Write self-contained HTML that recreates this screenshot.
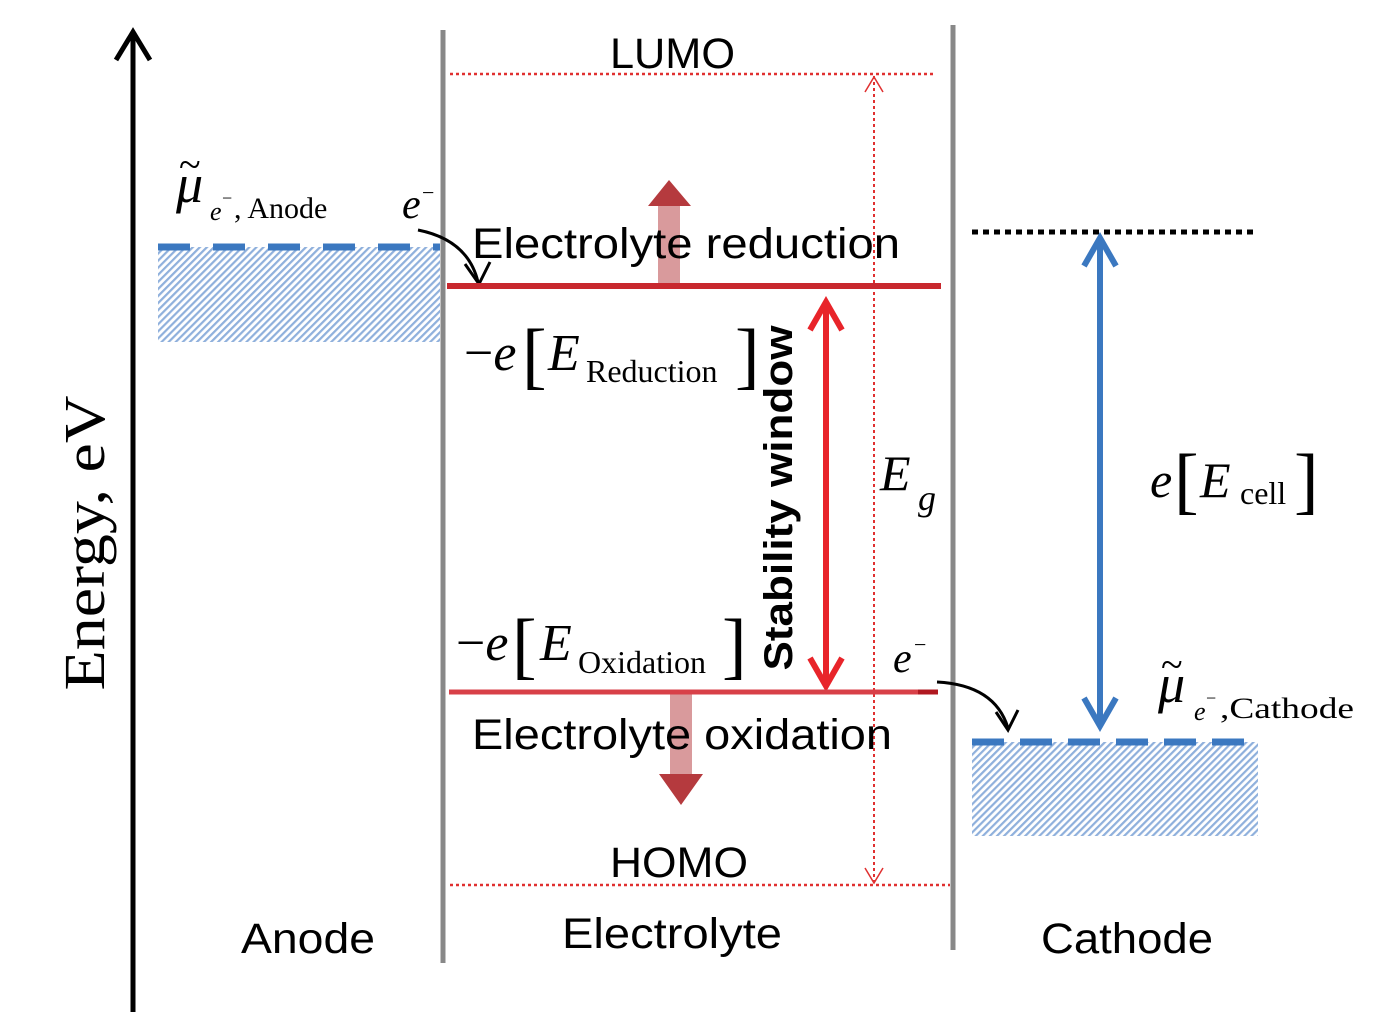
<!DOCTYPE html>
<html><head><meta charset="utf-8"><style>
html,body{margin:0;padding:0;background:#fff;}
svg{display:block;}
.sans{font-family:"Liberation Sans",sans-serif;}
.serif{font-family:"Liberation Serif",serif;}
</style></head><body>
<svg width="1374" height="1030" viewBox="0 0 1374 1030" xmlns="http://www.w3.org/2000/svg">
<defs>
<pattern id="h" width="5" height="5" patternUnits="userSpaceOnUse" patternTransform="rotate(45)">
<rect width="5" height="5" fill="#fff"/><rect width="2.2" height="5" fill="#8fb0dc"/>
</pattern>
</defs>
<line x1="133" y1="1012" x2="133" y2="36" stroke="#000" stroke-width="5"/>
<polyline points="116,60 133,32 150,60" fill="none" stroke="#000" stroke-width="5"/>
<text class="serif" font-size="58" transform="translate(104,543) rotate(-90)" text-anchor="middle" textLength="295" lengthAdjust="spacingAndGlyphs">Energy, eV</text>
<line x1="443" y1="30" x2="443" y2="963" stroke="#888" stroke-width="5"/>
<line x1="953" y1="25" x2="953" y2="950" stroke="#888" stroke-width="5"/>
<line x1="450" y1="74" x2="936" y2="74" stroke="#e03030" stroke-width="2.5" stroke-dasharray="3,3"/>
<line x1="450" y1="885" x2="950" y2="885" stroke="#e03030" stroke-width="2.5" stroke-dasharray="3,3"/>
<text class="sans" font-size="43" x="610" y="68" textLength="125" lengthAdjust="spacingAndGlyphs">LUMO</text>
<text class="sans" font-size="43" x="610" y="877" textLength="138" lengthAdjust="spacingAndGlyphs">HOMO</text>
<line x1="874" y1="76" x2="874" y2="883" stroke="#e03030" stroke-width="2" stroke-dasharray="3,3"/>
<polyline points="865,92 874,77 883,92" fill="none" stroke="#e03030" stroke-width="1.5"/>
<polyline points="865,868 874,883 883,868" fill="none" stroke="#e03030" stroke-width="1.5"/>
<text class="serif" font-style="italic" font-size="50" x="880" y="490">E</text>
<text class="serif" font-style="italic" font-size="36" x="918" y="510">g</text>
<rect x="158" y="247" width="282" height="95" fill="url(#h)"/>
<line x1="158" y1="247" x2="440" y2="247" stroke="#3b78c0" stroke-width="7" stroke-dasharray="32,23"/>
<text class="serif" font-style="italic" font-size="54" x="176" y="202">μ</text>
<text class="serif" font-size="40" x="179" y="178">~</text>
<text class="serif" font-style="italic" font-size="26" x="210" y="220">e</text>
<text class="serif" font-size="18" x="222" y="204">−</text>
<text class="serif" font-size="30" x="234" y="218">, Anode</text>
<text class="serif" font-style="italic" font-size="42" x="402" y="218">e</text>
<text class="serif" font-size="22" x="422" y="200">−</text>
<path d="M418,230 Q468,240 478,282" fill="none" stroke="#000" stroke-width="3"/>
<polyline points="465,264 479,284 490,262" fill="none" stroke="#000" stroke-width="3"/>
<rect x="658" y="206" width="22" height="80" fill="#d99a9c"/>
<polygon points="648,206 669,180 691,206" fill="#b53a3e"/>
<line x1="447" y1="286" x2="941" y2="286" stroke="#c8282e" stroke-width="6"/>
<text class="sans" font-size="43" x="472" y="258" textLength="428" lengthAdjust="spacingAndGlyphs">Electrolyte reduction</text>
<text class="serif" font-size="52" x="464" y="370"><tspan>−</tspan><tspan font-style="italic">e</tspan></text>
<text class="serif" font-size="74" x="522" y="380">[</text>
<text class="serif" font-style="italic" font-size="52" x="548" y="370">E</text>
<text class="serif" font-size="32" x="586" y="382">Reduction</text>
<text class="serif" font-size="74" x="735" y="380">]</text>
<text class="sans" font-weight="bold" font-size="40" transform="translate(792,498) rotate(-90)" text-anchor="middle" textLength="345" lengthAdjust="spacingAndGlyphs">Stability window</text>
<line x1="826" y1="305" x2="826" y2="680" stroke="#e8242a" stroke-width="6"/>
<polyline points="810,330 826,302 842,330" fill="none" stroke="#e8242a" stroke-width="6"/>
<polyline points="810,658 826,686 842,658" fill="none" stroke="#e8242a" stroke-width="6"/>
<text class="serif" font-size="52" x="456" y="660"><tspan>−</tspan><tspan font-style="italic">e</tspan></text>
<text class="serif" font-size="74" x="512" y="670">[</text>
<text class="serif" font-style="italic" font-size="52" x="540" y="660">E</text>
<text class="serif" font-size="32" x="578" y="673">Oxidation</text>
<text class="serif" font-size="74" x="722" y="670">]</text>
<rect x="670" y="694" width="22" height="80" fill="#d99a9c"/>
<polygon points="659,774 681,805 703,774" fill="#b53a3e"/>
<line x1="449" y1="692" x2="938" y2="692" stroke="#d84048" stroke-width="5"/>
<line x1="918" y1="692" x2="938" y2="692" stroke="#b01820" stroke-width="5"/>
<text class="sans" font-size="43" x="472" y="749" textLength="420" lengthAdjust="spacingAndGlyphs">Electrolyte oxidation</text>
<text class="serif" font-style="italic" font-size="42" x="893" y="672">e</text>
<text class="serif" font-size="22" x="914" y="652">−</text>
<path d="M937,682 Q995,685 1008,728" fill="none" stroke="#000" stroke-width="3"/>
<polyline points="996,712 1008,730 1018,710" fill="none" stroke="#000" stroke-width="3"/>
<line x1="972" y1="232" x2="1256" y2="232" stroke="#000" stroke-width="5" stroke-dasharray="6,5"/>
<rect x="972" y="742" width="286" height="94" fill="url(#h)"/>
<line x1="972" y1="742" x2="1258" y2="742" stroke="#3b78c0" stroke-width="7" stroke-dasharray="32,16"/>
<line x1="1100" y1="240" x2="1100" y2="724" stroke="#3b78c0" stroke-width="6"/>
<polyline points="1084,266 1100,238 1116,266" fill="none" stroke="#3b78c0" stroke-width="6"/>
<polyline points="1084,698 1100,726 1116,698" fill="none" stroke="#3b78c0" stroke-width="6"/>
<text class="serif" font-style="italic" font-size="50" x="1150" y="497">e</text>
<text class="serif" font-size="74" x="1174" y="505">[</text>
<text class="serif" font-style="italic" font-size="50" x="1200" y="497">E</text>
<text class="serif" font-size="32" x="1240" y="504">cell</text>
<text class="serif" font-size="74" x="1294" y="505">]</text>
<text class="serif" font-style="italic" font-size="54" x="1158" y="702">μ</text>
<text class="serif" font-size="40" x="1161" y="678">~</text>
<text class="serif" font-style="italic" font-size="26" x="1194" y="720">e</text>
<text class="serif" font-size="18" x="1206" y="704">−</text>
<text class="serif" font-size="30" x="1220" y="718" textLength="134" lengthAdjust="spacingAndGlyphs">,Cathode</text>
<text class="sans" font-size="43" x="241" y="953" textLength="134" lengthAdjust="spacingAndGlyphs">Anode</text>
<text class="sans" font-size="43" x="562" y="948" textLength="220" lengthAdjust="spacingAndGlyphs">Electrolyte</text>
<text class="sans" font-size="43" x="1041" y="953" textLength="172" lengthAdjust="spacingAndGlyphs">Cathode</text>
</svg>
</body></html>
